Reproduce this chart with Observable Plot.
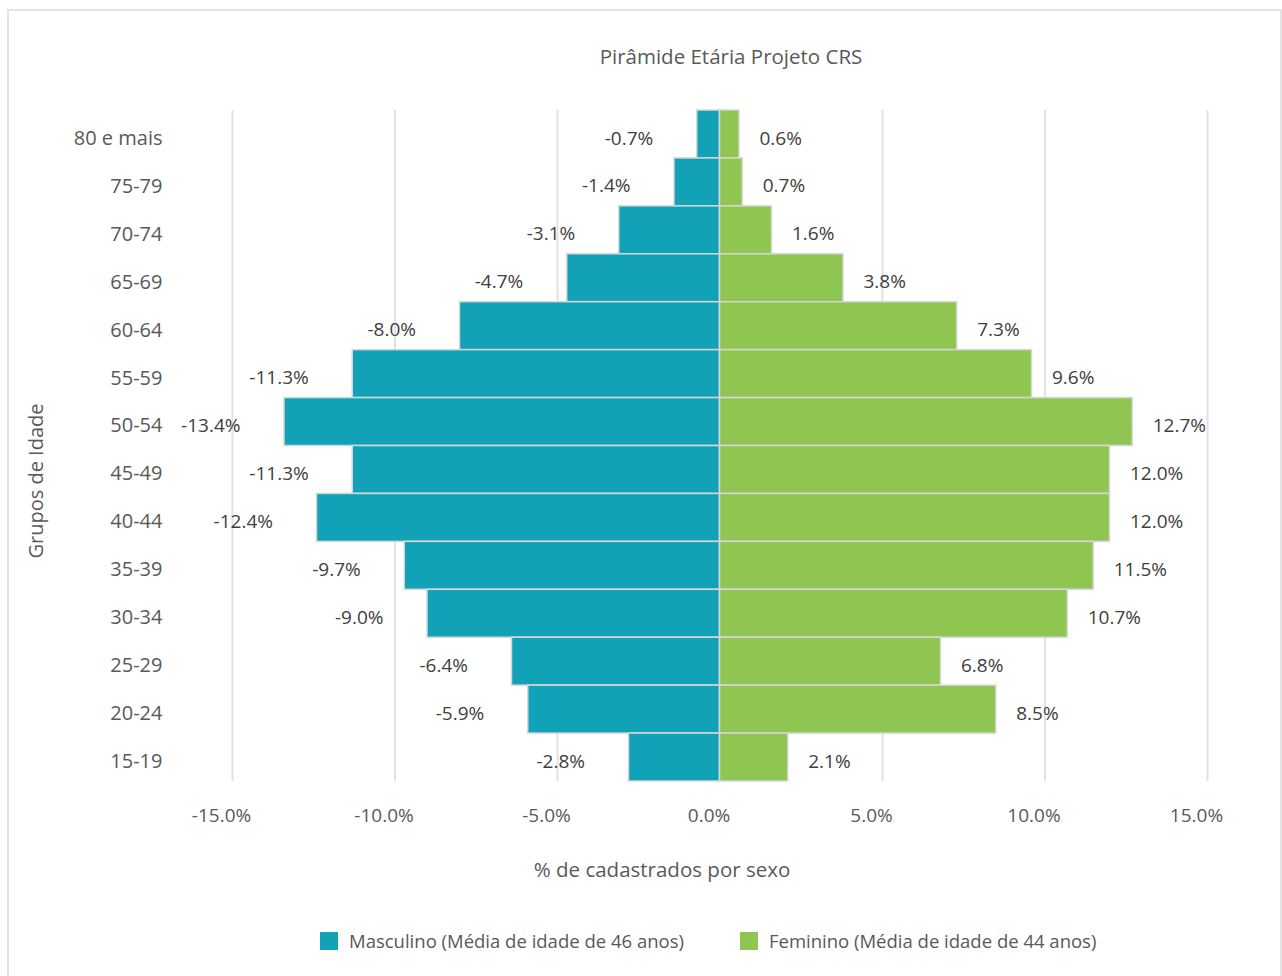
<!DOCTYPE html>
<html>
<head>
<meta charset="utf-8">
<script src="https://cdn.jsdelivr.net/npm/d3@7"></script>
<script src="https://cdn.jsdelivr.net/npm/@observablehq/plot@0.6"></script>
<style>
  body { margin: 0; background: #fff; font-family: "Open Sans", sans-serif; color: #595959; }
  #card { position: absolute; left: 7px; top: 9px; width: 1271px; height: 1000px; border: 2px solid #e4e4e4; }
  #title { position: absolute; left: 422px; top: 32px; width: 600px; text-align: center; font-size: 20.5px; line-height: 26px; }
  #chart { position: absolute; left: 0; top: 69px; }
  .item { position: absolute; top: 920px; display: flex; align-items: center; font-size: 18.5px; line-height: 20px; }
  .sw { width: 18px; height: 18px; margin-right: 11px; }
</style>
</head>
<body>
<div id="card">
  <div id="title">Pirâmide Etária Projeto CRS</div>
  <div id="chart"></div>
  <div class="item" style="left:311px"><span class="sw" style="background:#12A2B8"></span>Masculino (Média de idade de 46 anos)</div>
  <div class="item" style="left:731px"><span class="sw" style="background:#8FC651"></span>Feminino (Média de idade de 44 anos)</div>
</div>
<script>
// Age groups, top to bottom
const grupos = ["80 e mais", "75-79", "70-74", "65-69", "60-64", "55-59", "50-54",
  "45-49", "40-44", "35-39", "30-34", "25-29", "20-24", "15-19"];
// Share of registered people by sex (%), male shown as negative
const masculino = [-0.7, -1.4, -3.1, -4.7, -8.0, -11.3, -13.4, -11.3, -12.4, -9.7, -9.0, -6.4, -5.9, -2.8];
const feminino = [0.6, 0.7, 1.6, 3.8, 7.3, 9.6, 12.7, 12.0, 12.0, 11.5, 10.7, 6.8, 8.5, 2.1];
const xTicks = [-15, -10, -5, 0, 5, 10, 15];
const sexos = ["Masculino", "Feminino"];
const cores = ["#12A2B8", "#8FC651"];

const rows = [
  ...grupos.map((g, i) => ({grupo: g, sexo: "Masculino", valor: masculino[i]})),
  ...grupos.map((g, i) => ({grupo: g, sexo: "Feminino", valor: feminino[i]}))
];
const pct = v => v.toFixed(1) + "%";

const chart = Plot.plot({
  width: 1271,
  height: 811,
  marginLeft: 223,
  marginRight: 73,
  marginTop: 30,
  marginBottom: 110,
  style: {fontFamily: "Open Sans, sans-serif", fontSize: "19px", color: "#595959", background: "transparent", overflow: "visible"},
  x: {domain: [-15, 15]},
  y: {domain: grupos, padding: 0, round: false},
  color: {domain: sexos, range: cores},
  marks: [
    Plot.gridX(xTicks, {stroke: "#e2e2e2", strokeOpacity: 1, strokeWidth: 2}),
    Plot.barX(rows, {x: "valor", y: "grupo", fill: "sexo", stroke: "#d6d6d6", strokeWidth: 1.5}),
    Plot.text(rows.filter(d => d.sexo === "Masculino"), {
      x: "valor", y: "grupo", text: d => pct(d.valor), textAnchor: "end", dx: -44, dy: 4, fill: "#404040"
    }),
    Plot.text(rows.filter(d => d.sexo === "Feminino"), {
      x: "valor", y: "grupo", text: d => pct(d.valor), textAnchor: "start", dx: 20, dy: 4, fill: "#404040"
    }),
    Plot.axisX(xTicks, {tickSize: 0, tickPadding: 27, dx: -11, tickFormat: pct, label: null, fill: "#595959"}),
    Plot.axisY({tickSize: 0, tickPadding: 70, dy: 4, label: null, fill: "#595959", fontSize: 20}),
    Plot.text(["% de cadastrados por sexo"], {frameAnchor: "bottom", text: d => d, textAnchor: "middle", dx: -58, dy: 95, fill: "#595959", fontSize: 20.5}),
    Plot.text(["Grupos de Idade"], {frameAnchor: "left", text: d => d, textAnchor: "middle", rotate: -90, dx: -196, dy: 35, fill: "#595959", fontSize: 20})
  ]
});
document.getElementById("chart").appendChild(chart);
</script>
</body>
</html>
